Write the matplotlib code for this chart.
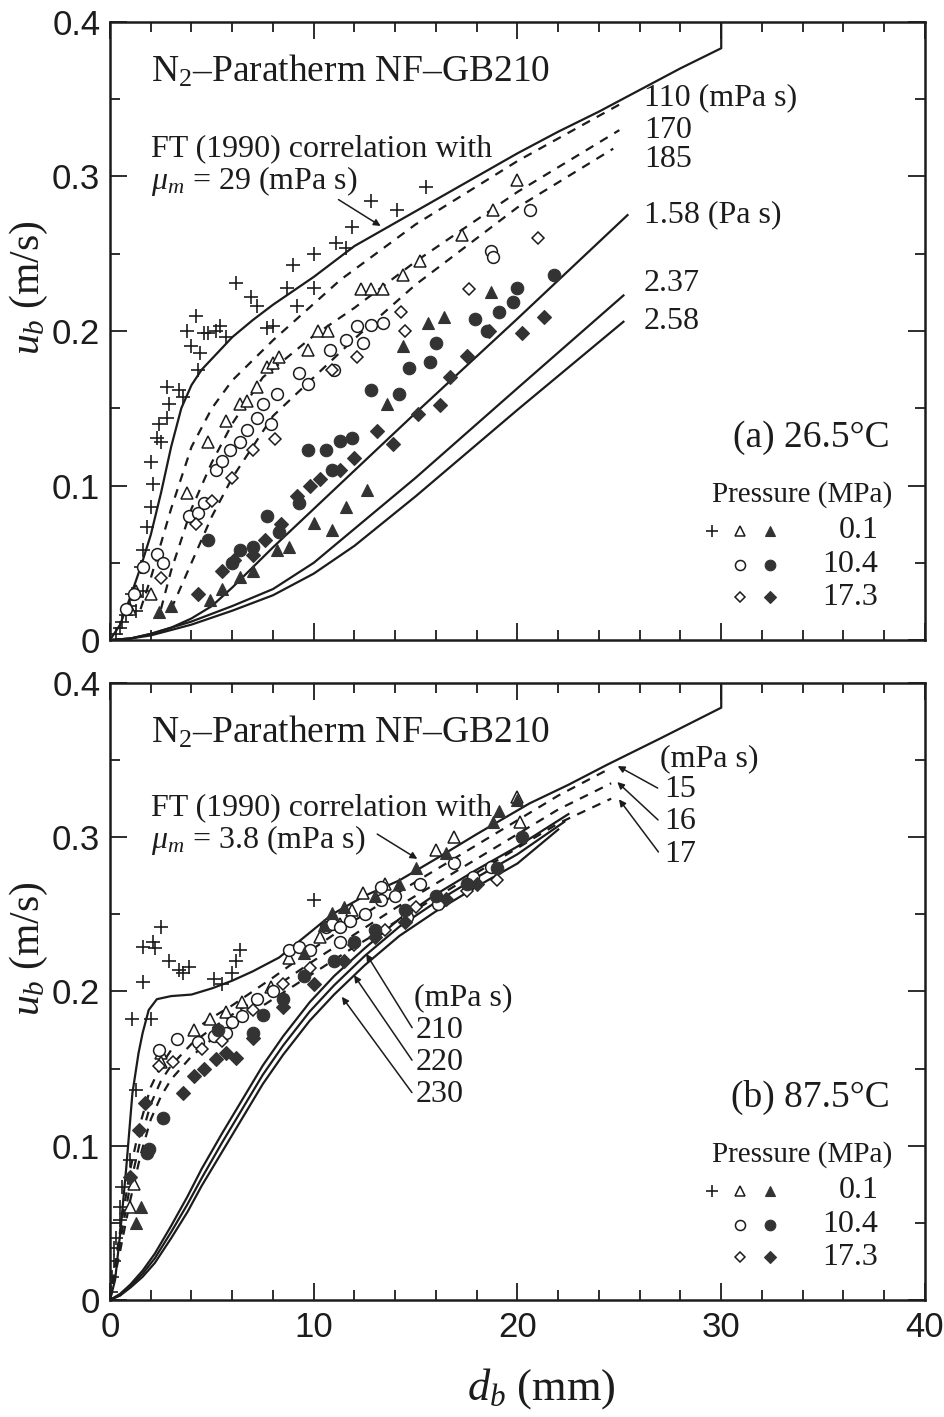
import numpy as np
import matplotlib
matplotlib.use('Agg')
import matplotlib.pyplot as plt

plt.rcParams['font.family'] = ['Liberation Serif', 'DejaVu Serif']
plt.rcParams['mathtext.fontset'] = 'custom'
plt.rcParams['mathtext.rm'] = 'Liberation Serif'
plt.rcParams['mathtext.it'] = 'Liberation Serif:italic'
plt.rcParams['mathtext.bf'] = 'Liberation Serif:bold'

INK = '#1c1c1c'
FILL = '#333333'

# ---------------- panel (a) 26.5 C ----------------
# FT (1990) correlation, mu_m = 29 mPa s
a_ft_x = [0, 0.5, 1, 1.5, 2, 2.5, 3, 3.5, 4, 4.5, 5, 6, 7, 8, 10, 12, 14, 16, 18, 20, 22, 24, 26, 28, 30, 30]
a_ft_y = [0, 0.01, 0.028, 0.047, 0.068, 0.095, 0.125, 0.15, 0.165, 0.175, 0.182, 0.196, 0.207, 0.217,
          0.235, 0.255, 0.27, 0.285, 0.3, 0.315, 0.329, 0.342, 0.356, 0.37, 0.383, 0.4]

# dashed curves (mPa s)
a_d110_x = [1.5, 2, 3, 4, 5, 6, 8, 11.3, 15, 20, 25.2]
a_d110_y = [0.02, 0.04, 0.085, 0.125, 0.15, 0.168, 0.194, 0.233, 0.269, 0.31, 0.348]
a_d170_x = [2.5, 3, 4, 5, 6, 7.5, 10, 12, 15, 20, 25.0]
a_d170_y = [0.02, 0.045, 0.085, 0.115, 0.14, 0.17, 0.197, 0.215, 0.245, 0.29, 0.33]
a_d185_x = [3, 4, 5, 6, 7, 8, 10, 12, 15, 20, 24.7]
a_d185_y = [0.02, 0.05, 0.08, 0.105, 0.125, 0.145, 0.17, 0.195, 0.23, 0.28, 0.318]

# solid curves (Pa s)
a_s158_x = [0, 1, 2, 3, 4, 5, 6, 8, 11.7, 15, 20, 25.4]
a_s158_y = [0, 0.001, 0.004, 0.008, 0.014, 0.022, 0.034, 0.06, 0.106, 0.147, 0.208, 0.275]
a_s237_x = [0, 1, 2, 4, 6, 8, 10, 12, 15, 20, 25.2]
a_s237_y = [0, 0.001, 0.004, 0.012, 0.022, 0.033, 0.05, 0.072, 0.105, 0.163, 0.223]
a_s258_x = [0, 1, 2, 4, 6, 8, 10, 12, 15, 20, 25.2]
a_s258_y = [0, 0.001, 0.003, 0.01, 0.019, 0.029, 0.043, 0.061, 0.093, 0.149, 0.206]

# measured bubble rise velocities (d_b mm, u_b m/s)
a_plus = [(0.3, 0.004), (0.5, 0.008), (0.6, 0.012), (0.8, 0.016), (1.0, 0.022), (1.3, 0.019), (1.1, 0.03),
          (1.6, 0.032), (1.5, 0.047), (1.6, 0.058), (1.8, 0.073), (2.0, 0.086), (2.1, 0.101), (2.0, 0.115),
          (2.5, 0.128), (2.3, 0.131), (2.4, 0.14), (2.8, 0.144), (2.9, 0.153), (3.4, 0.162), (2.8, 0.164),
          (3.6, 0.157), (4.3, 0.175), (4.4, 0.186), (4.0, 0.19), (3.8, 0.2), (4.2, 0.21), (4.8, 0.199),
          (4.6, 0.199), (5.2, 0.2), (5.4, 0.203), (5.7, 0.196), (6.2, 0.231), (6.9, 0.222), (7.2, 0.216),
          (7.7, 0.202), (8.0, 0.203), (8.7, 0.228), (9.2, 0.216), (9.0, 0.243), (10.0, 0.25), (10.0, 0.228),
          (11.1, 0.257), (11.6, 0.254), (11.9, 0.267), (12.8, 0.284), (14.1, 0.278), (15.5, 0.293)]
a_tri_open = [(1.0, 0.02), (1.3, 0.032), (2.0, 0.03), (3.8, 0.095), (4.8, 0.128), (5.7, 0.142), (6.4, 0.153),
              (6.7, 0.155), (7.2, 0.164), (7.7, 0.177), (8.0, 0.179), (8.3, 0.183), (9.7, 0.188), (10.2, 0.2),
              (10.7, 0.2), (12.3, 0.227), (12.8, 0.227), (13.4, 0.227), (14.4, 0.236), (15.2, 0.245),
              (17.3, 0.262), (18.8, 0.278), (20.0, 0.298)]
a_circ_open = [(0.8, 0.02), (1.2, 0.03), (1.6, 0.047), (2.3, 0.056), (2.6, 0.05), (3.9, 0.08), (4.3, 0.082),
               (4.6, 0.089), (5.2, 0.11), (5.5, 0.116), (5.9, 0.123), (6.4, 0.128), (6.7, 0.136), (7.2, 0.144),
               (7.5, 0.153), (7.9, 0.14), (8.2, 0.159), (9.3, 0.173), (9.7, 0.166), (10.8, 0.188), (11.0, 0.175),
               (11.6, 0.194), (12.1, 0.203), (12.4, 0.192), (12.8, 0.204), (13.4, 0.205), (18.7, 0.252),
               (18.8, 0.248), (20.6, 0.278)]
a_dia_open = [(2.5, 0.04), (4.2, 0.075), (5.0, 0.09), (6.0, 0.105), (7.0, 0.123), (8.1, 0.13), (10.9, 0.175),
              (12.1, 0.183), (14.3, 0.212), (14.5, 0.2), (17.6, 0.227), (21.0, 0.26)]
a_tri_fill = [(2.4, 0.018), (3.0, 0.022), (4.9, 0.026), (5.5, 0.033), (6.4, 0.041), (7.0, 0.045), (8.2, 0.058),
              (8.8, 0.06), (10.0, 0.076), (10.9, 0.071), (11.6, 0.086), (12.6, 0.097), (13.6, 0.153),
              (14.4, 0.19), (15.6, 0.205), (16.4, 0.209), (18.7, 0.225)]
a_circ_fill = [(4.8, 0.065), (6.0, 0.05), (6.4, 0.058), (7.0, 0.06), (7.7, 0.08), (8.3, 0.07), (9.3, 0.089),
               (9.7, 0.123), (10.6, 0.123), (10.9, 0.11), (11.3, 0.129), (11.9, 0.131), (12.8, 0.162),
               (14.2, 0.159), (14.7, 0.176), (15.7, 0.18), (16.0, 0.192), (17.9, 0.208), (18.5, 0.2),
               (19.1, 0.212), (19.8, 0.219), (20.0, 0.228), (21.8, 0.236)]
a_dia_fill = [(4.3, 0.03), (5.5, 0.045), (6.1, 0.052), (7.0, 0.055), (7.6, 0.065), (8.4, 0.075), (9.2, 0.093),
              (9.8, 0.1), (10.3, 0.104), (11.3, 0.11), (12.0, 0.118), (13.1, 0.135), (13.9, 0.127),
              (15.1, 0.146), (16.2, 0.152), (16.7, 0.17), (17.5, 0.184), (18.6, 0.2), (20.2, 0.199), (21.3, 0.209)]

# ---------------- panel (b) 87.5 C ----------------
b_ft_x = [0, 0.25, 0.5, 0.8, 1.1, 1.4, 1.6, 1.9, 2.3, 3, 4, 5, 6, 7, 8.3, 9.7, 10.9, 12.5, 14.2, 16, 18,
          20.6, 22.5, 24.4, 27, 30, 30]
b_ft_y = [0, 0.013, 0.043, 0.086, 0.134, 0.16, 0.173, 0.188, 0.195, 0.197, 0.198, 0.202, 0.207, 0.213,
          0.222, 0.237, 0.25, 0.262, 0.272, 0.286, 0.302, 0.322, 0.334, 0.347, 0.364, 0.384, 0.4]

b_d15_x = [0, 0.5, 1, 1.5, 2, 2.5, 3, 4, 5, 6, 8, 10, 12, 14, 16, 18, 20, 22, 24.6]
b_d15_y = [0, 0.045, 0.085, 0.115, 0.138, 0.152, 0.162, 0.174, 0.183, 0.191, 0.209, 0.228, 0.246, 0.263,
           0.279, 0.295, 0.311, 0.327, 0.345]
b_d16_x = [0, 0.5, 1, 1.5, 2, 2.5, 3, 4, 5, 6, 8, 10, 12, 14, 16, 18, 20, 22, 24.6]
b_d16_y = [0, 0.038, 0.075, 0.104, 0.127, 0.142, 0.152, 0.166, 0.176, 0.185, 0.202, 0.22, 0.237, 0.254,
           0.27, 0.286, 0.302, 0.318, 0.335]
b_d17_x = [0, 0.5, 1, 1.5, 2, 2.5, 3, 4, 5, 6, 8, 10, 12, 14, 16, 18, 20, 22, 24.6]
b_d17_y = [0, 0.032, 0.065, 0.094, 0.117, 0.132, 0.143, 0.158, 0.169, 0.178, 0.195, 0.212, 0.229, 0.245,
           0.261, 0.277, 0.293, 0.309, 0.325]

b_s210_x = [0, 0.5, 1, 1.6, 2.2, 3, 3.8, 4.5, 5.5, 6.5, 7.5, 8.5, 9.8, 11, 12.5, 14.2, 16, 18, 20, 22.5]
b_s210_y = [0, 0.004, 0.01, 0.019, 0.03, 0.048, 0.067, 0.085, 0.108, 0.13, 0.152, 0.171, 0.193, 0.21,
            0.228, 0.247, 0.263, 0.279, 0.294, 0.315]
b_s220_x = [0, 0.5, 1, 1.6, 2.2, 3, 3.8, 4.5, 5.5, 6.5, 7.5, 8.5, 9.8, 11, 12.5, 14.2, 16, 18, 20, 22.3]
b_s220_y = [0, 0.003, 0.009, 0.017, 0.027, 0.044, 0.062, 0.079, 0.102, 0.124, 0.146, 0.165, 0.187, 0.204,
            0.223, 0.242, 0.258, 0.274, 0.289, 0.31]
b_s230_x = [0, 0.5, 1, 1.6, 2.2, 3, 3.8, 4.5, 5.5, 6.5, 7.5, 8.5, 9.8, 11, 12.5, 14.2, 16, 18, 20, 22.0]
b_s230_y = [0, 0.003, 0.008, 0.015, 0.024, 0.04, 0.057, 0.074, 0.096, 0.118, 0.14, 0.159, 0.181, 0.198,
            0.217, 0.236, 0.252, 0.268, 0.283, 0.305]

b_plus = [(0.05, 0.005), (0.1, 0.015), (0.2, 0.025), (0.2, 0.034), (0.3, 0.04), (0.5, 0.052), (0.5, 0.06),
          (0.6, 0.073), (1.0, 0.091), (1.3, 0.136), (1.1, 0.182), (2.0, 0.182), (1.6, 0.206), (1.6, 0.229),
          (2.1, 0.232), (2.5, 0.242), (2.2, 0.228), (2.9, 0.22), (3.4, 0.214), (3.9, 0.216), (3.6, 0.212),
          (5.1, 0.208), (5.5, 0.205), (6.0, 0.212), (6.2, 0.22), (6.4, 0.227), (10.0, 0.259)]
b_tri_open = [(1.0, 0.06), (1.2, 0.075), (2.5, 0.16), (2.5, 0.154), (4.1, 0.175), (4.9, 0.182), (5.7, 0.187),
              (6.5, 0.193), (7.9, 0.203), (8.8, 0.222), (10.3, 0.235), (11.3, 0.244), (11.9, 0.253),
              (12.4, 0.264), (13.5, 0.27), (16.0, 0.292), (16.9, 0.3), (20.1, 0.31), (20.0, 0.326)]
b_circ_open = [(2.4, 0.162), (3.3, 0.169), (4.3, 0.167), (5.1, 0.171), (5.7, 0.173), (6.0, 0.18), (6.5, 0.184),
               (7.2, 0.195), (8.0, 0.2), (8.8, 0.227), (9.3, 0.229), (9.8, 0.227), (10.6, 0.242), (10.9, 0.244),
               (11.3, 0.242), (11.8, 0.246), (11.3, 0.232), (12.5, 0.25), (13.3, 0.259), (13.3, 0.268),
               (14.6, 0.248), (14.0, 0.262), (15.2, 0.27), (16.1, 0.257), (16.9, 0.283), (17.8, 0.274),
               (18.7, 0.281)]
b_dia_open = [(2.4, 0.152), (3.1, 0.154), (4.5, 0.163), (5.5, 0.168), (7.0, 0.188), (8.5, 0.205), (9.8, 0.215),
              (12.0, 0.23), (13.5, 0.24), (15.0, 0.255), (17.5, 0.265), (19.0, 0.272)]
b_tri_fill = [(1.3, 0.05), (1.5, 0.06), (9.5, 0.225), (10.5, 0.243), (10.9, 0.251), (11.5, 0.255), (13.0, 0.262),
              (14.2, 0.27), (15.0, 0.28), (16.5, 0.29), (18.8, 0.31), (19.1, 0.317), (20.0, 0.324)]
b_circ_fill = [(1.8, 0.095), (1.9, 0.098), (2.6, 0.118), (5.3, 0.175), (7.0, 0.173), (7.5, 0.185), (8.5, 0.195),
               (9.5, 0.21), (11.0, 0.22), (12.0, 0.232), (13.0, 0.24), (14.5, 0.253), (16.0, 0.262),
               (17.5, 0.27), (19.0, 0.28), (20.2, 0.3)]
b_dia_fill = [(1.0, 0.08), (1.4, 0.11), (1.7, 0.128), (3.6, 0.134), (4.1, 0.145), (4.6, 0.15), (5.2, 0.156),
              (5.7, 0.16), (6.2, 0.157), (7.0, 0.17), (8.5, 0.19), (10.0, 0.205), (11.5, 0.22), (13.0, 0.235),
              (14.5, 0.245), (16.5, 0.26), (18.0, 0.27)]

pressures = ['0.1', '10.4', '17.3']

MARKERS = {
    'plus': dict(marker='+', ms=10, mew=1.2, color=INK),
    'tri_open': dict(marker='^', ms=8.5, mew=1.1, mfc='white', mec=INK),
    'circ_open': dict(marker='o', ms=8.5, mew=1.1, mfc='white', mec=INK),
    'dia_open': dict(marker='D', ms=6.5, mew=1.1, mfc='white', mec=INK),
    'tri_fill': dict(marker='^', ms=8.5, mew=0.8, mfc=FILL, mec=FILL),
    'circ_fill': dict(marker='o', ms=9, mew=0.8, mfc=FILL, mec=FILL),
    'dia_fill': dict(marker='D', ms=7, mew=0.8, mfc=FILL, mec=FILL),
}


def scatter(ax, pts, key):
    xs = [p[0] for p in pts]
    ys = [p[1] for p in pts]
    ax.plot(xs, ys, ls='none', zorder=3, **MARKERS[key])


def style_axes(ax, bottom):
    ax.set_xlim(0, 40)
    ax.set_ylim(0, 0.4)
    ax.set_xticks([0, 10, 20, 30, 40])
    ax.set_xticks(np.arange(0, 41, 2), minor=True)
    ax.set_yticks([0, 0.1, 0.2, 0.3, 0.4])
    ax.set_yticks([0.05, 0.15, 0.25, 0.35], minor=True)
    ax.tick_params(which='both', direction='in', top=True, right=True, width=1.3, color=INK)
    ax.tick_params(which='major', length=12)
    ax.tick_params(which='minor', length=7)
    ax.set_yticklabels(['0', '0.1', '0.2', '0.3', '0.4'], fontfamily='Liberation Sans', fontsize=25, color=INK)
    ax.tick_params(axis='y', pad=7)
    if bottom:
        ax.set_xticklabels(['0', '10', '20', '30', '40'], fontfamily='Liberation Sans', fontsize=25, color=INK)
        ax.tick_params(axis='x', pad=8)
    else:
        ax.set_xticklabels([])
    for s in ax.spines.values():
        s.set_linewidth(1.8)
        s.set_color(INK)
    ax.text(-0.1, 0.57, r'$u_b$ (m/s)', transform=ax.transAxes, rotation=90,
            ha='center', va='center', fontsize=30, color=INK)


def legend_block(ax, title):
    ax.text(0.957, 0.328, title, transform=ax.transAxes, ha='right', va='center', fontsize=27, color=INK)
    ax.text(0.96, 0.236, 'Pressure (MPa)', transform=ax.transAxes, ha='right', va='center',
            fontsize=21, color=INK)
    rows = [['plus', 'tri_open', 'tri_fill'], ['circ_open', 'circ_fill'], ['dia_open', 'dia_fill']]
    row_y = [0.177, 0.122, 0.069]
    col_x = {'plus': 0.739, 'tri_open': 0.773, 'tri_fill': 0.81,
             'circ_open': 0.773, 'circ_fill': 0.81, 'dia_open': 0.773, 'dia_fill': 0.81}
    for keys, y, p in zip(rows, row_y, pressures):
        for k in keys:
            st = dict(MARKERS[k])
            st['ms'] = st['ms'] * 0.85
            ax.plot([col_x[k]], [y], transform=ax.transAxes, ls='none', clip_on=False, **st)
        ax.text(0.943, y, p, transform=ax.transAxes, ha='right', va='center', fontsize=23, color=INK)


def draw_panel_a(ax):
    line = dict(color=INK, lw=1.6)
    dash = dict(color=INK, lw=1.6, dashes=(4, 3.5))
    ax.plot(a_ft_x, a_ft_y, **line)
    ax.plot(a_d110_x, a_d110_y, **dash)
    ax.plot(a_d170_x, a_d170_y, **dash)
    ax.plot(a_d185_x, a_d185_y, **dash)
    ax.plot(a_s158_x, a_s158_y, **line)
    ax.plot(a_s237_x, a_s237_y, **line)
    ax.plot(a_s258_x, a_s258_y, **line)

    scatter(ax, a_plus, 'plus')
    scatter(ax, a_tri_open, 'tri_open')
    scatter(ax, a_circ_open, 'circ_open')
    scatter(ax, a_dia_open, 'dia_open')
    scatter(ax, a_tri_fill, 'tri_fill')
    scatter(ax, a_circ_fill, 'circ_fill')
    scatter(ax, a_dia_fill, 'dia_fill')

    ax.text(2.0, 0.368, r'N$_2$–Paratherm NF–GB210', fontsize=27, va='center', color=INK)
    ax.text(2.0, 0.318, 'FT (1990) correlation with', fontsize=23, va='center', color=INK)
    ax.text(2.0, 0.297, r'$\mu_m$ = 29 (mPa s)', fontsize=23, va='center', color=INK)
    ax.annotate('', xy=(13.4, 0.267), xytext=(11.1, 0.286),
                arrowprops=dict(arrowstyle='-|>', color=INK, lw=1.1, mutation_scale=10))

    for txt, y in [('110 (mPa s)', 0.351), ('170', 0.33), ('185', 0.311), ('1.58 (Pa s)', 0.275),
                   ('2.37', 0.231), ('2.58', 0.206)]:
        ax.text(26.2, y, txt, fontsize=23, va='center', color=INK)

    legend_block(ax, '(a) 26.5°C')


def draw_panel_b(ax):
    line = dict(color=INK, lw=1.6)
    dash = dict(color=INK, lw=1.6, dashes=(4, 3.5))
    ax.plot(b_ft_x, b_ft_y, **line)
    ax.plot(b_d15_x, b_d15_y, **dash)
    ax.plot(b_d16_x, b_d16_y, **dash)
    ax.plot(b_d17_x, b_d17_y, **dash)
    ax.plot(b_s210_x, b_s210_y, **line)
    ax.plot(b_s220_x, b_s220_y, **line)
    ax.plot(b_s230_x, b_s230_y, **line)

    scatter(ax, b_plus, 'plus')
    scatter(ax, b_tri_open, 'tri_open')
    scatter(ax, b_circ_open, 'circ_open')
    scatter(ax, b_dia_open, 'dia_open')
    scatter(ax, b_tri_fill, 'tri_fill')
    scatter(ax, b_circ_fill, 'circ_fill')
    scatter(ax, b_dia_fill, 'dia_fill')

    ax.text(2.0, 0.368, r'N$_2$–Paratherm NF–GB210', fontsize=27, va='center', color=INK)
    ax.text(2.0, 0.319, 'FT (1990) correlation with', fontsize=23, va='center', color=INK)
    ax.text(2.0, 0.298, r'$\mu_m$ = 3.8 (mPa s)', fontsize=23, va='center', color=INK)
    arrow = dict(arrowstyle='-|>', color=INK, lw=1.1, mutation_scale=10)
    ax.annotate('', xy=(15.2, 0.285), xytext=(13.0, 0.303), arrowprops=arrow)

    ax.text(27.0, 0.351, '(mPa s)', fontsize=23, va='center', color=INK)
    for txt, y, tip in [('15', 0.331, (24.8, 0.347)), ('16', 0.31, (24.8, 0.337)), ('17', 0.289, (24.9, 0.326))]:
        ax.text(27.2, y, txt, fontsize=23, va='center', color=INK)
        ax.annotate('', xy=tip, xytext=(27.0, y), arrowprops=arrow)

    ax.text(14.9, 0.196, '(mPa s)', fontsize=23, va='center', color=INK)
    for txt, y, tip in [('210', 0.175, (12.5, 0.226)), ('220', 0.154, (11.9, 0.212)), ('230', 0.133, (11.3, 0.198))]:
        ax.text(15.0, y, txt, fontsize=23, va='center', color=INK)
        ax.annotate('', xy=tip, xytext=(14.9, y), arrowprops=arrow)

    legend_block(ax, '(b) 87.5°C')


def main():
    fig = plt.figure(figsize=(9.45, 14.17), dpi=100)
    ax_a = fig.add_axes([0.1164, 0.5483, 0.8624, 0.4362])
    ax_b = fig.add_axes([0.1164, 0.0826, 0.8624, 0.4354])

    draw_panel_a(ax_a)
    draw_panel_b(ax_b)
    style_axes(ax_a, bottom=False)
    style_axes(ax_b, bottom=True)
    ax_b.text(0.53, -0.143, r'$d_b$ (mm)', transform=ax_b.transAxes, ha='center', va='center',
              fontsize=32, color=INK)

    fig.savefig('out.png', dpi=100)


if __name__ == '__main__':
    main()
